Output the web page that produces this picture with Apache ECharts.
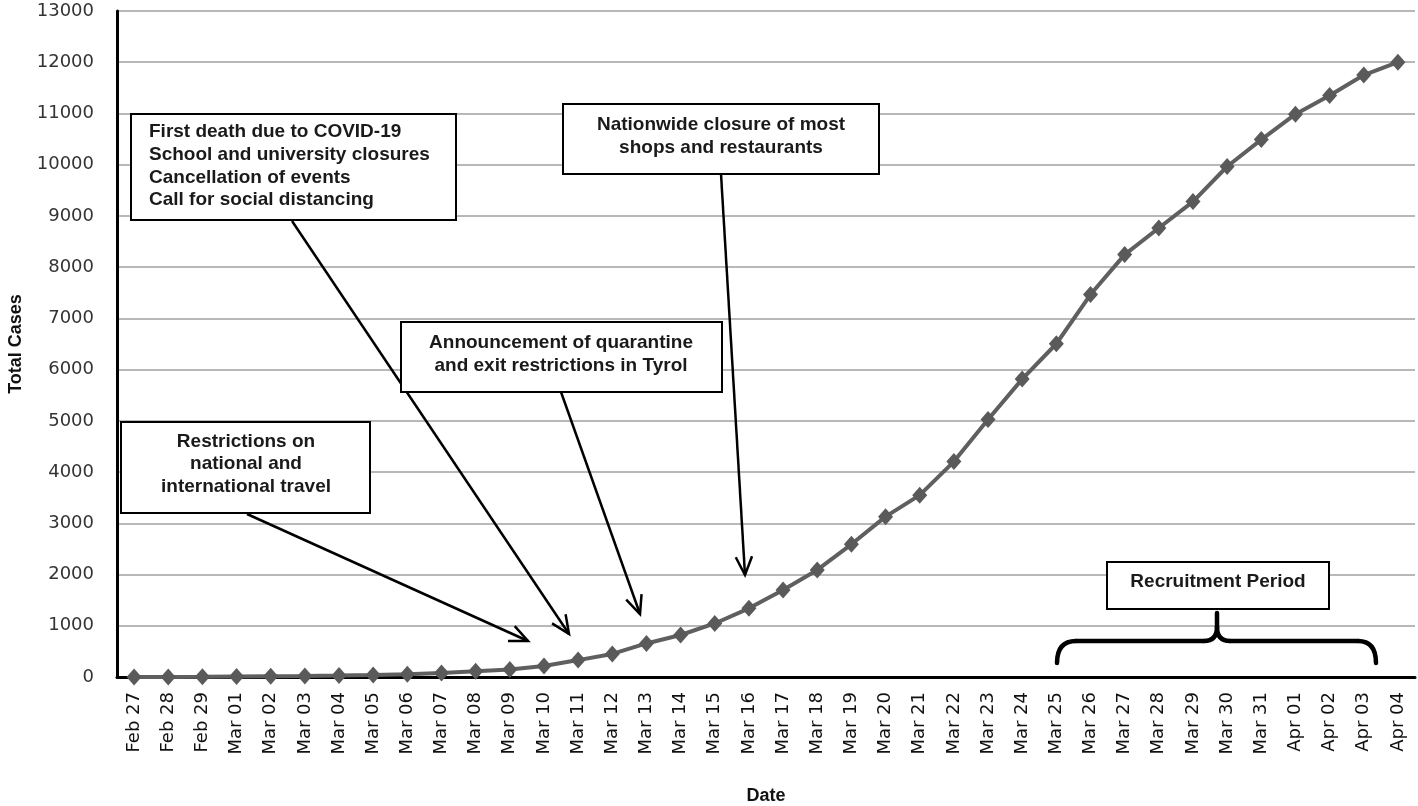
<!DOCTYPE html>
<html>
<head>
<meta charset="utf-8">
<script src="https://cdn.jsdelivr.net/npm/echarts@6/dist/echarts.min.js"></script>
<style>
html,body{margin:0;padding:0;background:#fff;}
#chart{width:1418px;height:806px;}
</style>
</head>
<body>
<div id="chart"></div>
<script>
const dates = ['Feb 27','Feb 28','Feb 29','Mar 01','Mar 02','Mar 03','Mar 04','Mar 05','Mar 06','Mar 07',
  'Mar 08','Mar 09','Mar 10','Mar 11','Mar 12','Mar 13','Mar 14','Mar 15','Mar 16','Mar 17','Mar 18',
  'Mar 19','Mar 20','Mar 21','Mar 22','Mar 23','Mar 24','Mar 25','Mar 26','Mar 27','Mar 28','Mar 29',
  'Mar 30','Mar 31','Apr 01','Apr 02','Apr 03','Apr 04'];
const totalCases = [0,2,3,10,14,18,29,41,55,79,
  110,145,215,330,450,655,820,1045,1340,1700,2090,
  2590,3130,3550,4205,5025,5815,6505,7465,8245,8765,9280,
  9965,10490,10985,11350,11750,12000];
const yMin = 0, yMax = 13000, yStep = 1000;
const yAxisTitle = 'Total Cases';
const xAxisTitle = 'Date';
const annotationTexts = [
  'First death due to COVID-19\nSchool and university closures\nCancellation of events\nCall for social distancing',
  'Nationwide closure of most\nshops and restaurants',
  'Restrictions on\nnational and\ninternational travel',
  'Announcement of quarantine\nand exit restrictions in Tyrol',
  'Recruitment Period'
];

// layout of annotation layer (pixels)
const boxes = [
  {x:131, y:114, w:325, h:106, tx:149, ty:166, align:'left'},
  {x:563, y:104, w:316, h:70, tx:721, ty:136, align:'center'},
  {x:121, y:422, w:249, h:91, tx:246, ty:464, align:'center'},
  {x:401, y:322, w:321, h:70, tx:561, ty:354, align:'center'},
  {x:1107, y:562, w:222, h:47, tx:1218, ty:582, align:'center'}
];
const arrows = [
  [292,221, 569,634],
  [721,174, 745,575],
  [247,514, 528,641],
  [561,392, 640,614]
];

const chart = echarts.init(document.getElementById('chart'), null, {renderer:'canvas'});
const option = {
  animation:false,
  backgroundColor:'#ffffff',
  grid:{left:117, right:3, top:11, bottom:129, containLabel:false, outerBoundsMode:'none'},
  xAxis:{
    type:'category', data:dates, boundaryGap:true,
    name:xAxisTitle, nameLocation:'middle', nameGap:110,
    nameTextStyle:{fontFamily:'Liberation Sans Narrow, Liberation Sans', fontWeight:'bold', fontSize:18, color:'#111'},
    axisLine:{lineStyle:{color:'#000', width:3}},
    axisTick:{show:false},
    axisLabel:{rotate:90, interval:0, margin:15, fontFamily:'DejaVu Sans', fontSize:18, color:'#111'},
    splitLine:{show:false}
  },
  yAxis:{
    type:'value', min:yMin, max:yMax, interval:yStep,
    name:yAxisTitle, nameLocation:'middle', nameGap:92, nameRotate:90,
    nameTextStyle:{fontFamily:'Liberation Sans Narrow, Liberation Sans', fontWeight:'bold', fontSize:18, color:'#111'},
    axisLine:{show:true, lineStyle:{color:'#000', width:3}},
    axisTick:{show:false},
    axisLabel:{margin:23, fontFamily:'DejaVu Sans', fontSize:18, color:'#333', formatter:function(v){return String(v);}},
    splitLine:{lineStyle:{color:'#a0a0a0', width:1.5}}
  },
  series:[{
    type:'line', data:totalCases,
    symbol:'diamond', symbolSize:[15,17],
    lineStyle:{color:'#5f5f5f', width:4},
    itemStyle:{color:'#5a5a5a'},
    z:5
  }]
};
chart.setOption(option);

function arrowEls(a){
  const [x1,y1,x2,y2] = a;
  const ang = Math.atan2(y2-y1, x2-x1);
  const L = 20, spread = 0.42;
  const p1 = [x2 - L*Math.cos(ang-spread), y2 - L*Math.sin(ang-spread)];
  const p2 = [x2 - L*Math.cos(ang+spread), y2 - L*Math.sin(ang+spread)];
  return [
    {type:'line', z:20, shape:{x1:x1,y1:y1,x2:x2,y2:y2}, style:{stroke:'#000', lineWidth:2.5}},
    {type:'polyline', z:20, shape:{points:[p1,[x2,y2],p2]}, style:{stroke:'#000', lineWidth:2.5, fill:null, lineJoin:'miter'}}
  ];
}
const els = [];
arrows.forEach(a => arrowEls(a).forEach(e => els.push(e)));
boxes.forEach((b,i) => {
  els.push({type:'rect', z:30, shape:{x:b.x, y:b.y, width:b.w, height:b.h},
    style:{fill:'#fff', stroke:'#000', lineWidth:2}});
  els.push({type:'text', z:31, x:b.tx, y:b.ty,
    style:{text:annotationTexts[i], fill:'#1a1a1a', font:'bold 19px "Liberation Sans", Arial, sans-serif',
      align:b.align, verticalAlign:'middle', lineHeight:22.7}});
});
// bracket for recruitment period
const bs = {stroke:'#000', lineWidth:4.5, fill:null, lineCap:'round'};
els.push({type:'bezierCurve', z:20, shape:{x1:1057,y1:663, x2:1076,y2:641, cpx1:1057,cpy1:641}, style:bs});
els.push({type:'line', z:20, shape:{x1:1076,y1:641, x2:1204,y2:641}, style:bs});
els.push({type:'bezierCurve', z:20, shape:{x1:1204,y1:641, x2:1217,y2:627, cpx1:1217,cpy1:641}, style:bs});
els.push({type:'line', z:20, shape:{x1:1217,y1:627, x2:1217,y2:613}, style:bs});
els.push({type:'bezierCurve', z:20, shape:{x1:1217,y1:627, x2:1230,y2:641, cpx1:1217,cpy1:641}, style:bs});
els.push({type:'line', z:20, shape:{x1:1230,y1:641, x2:1358,y2:641}, style:bs});
els.push({type:'bezierCurve', z:20, shape:{x1:1358,y1:641, x2:1376,y2:663, cpx1:1376,cpy1:641}, style:bs});
chart.setOption({graphic:{elements:els}});
</script>
</body>
</html>
